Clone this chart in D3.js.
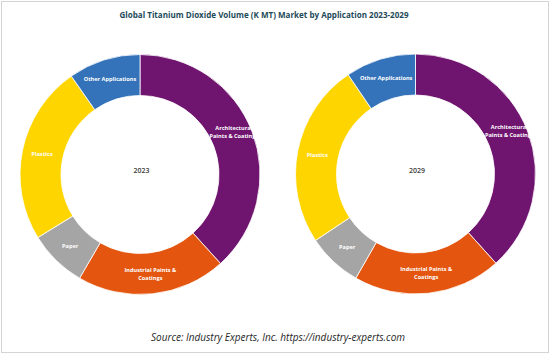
<!DOCTYPE html>
<html><head><meta charset="utf-8">
<script src="https://cdn.jsdelivr.net/npm/d3@7"></script>
<style>html,body{margin:0;padding:0;background:#fff;}svg{display:block;}</style>
</head><body>
<svg id="chart" width="550" height="355"></svg>
<script>
const categories = ["Architectural Paints & Coatings", "Industrial Paints & Coatings", "Paper", "Plastics", "Other Applications"];
const labelLines = [["Architectural", "Paints & Coatings"], ["Industrial Paints &", "Coatings"], ["Paper"], ["Plastics"], ["Other Applications"]];
const years = ["2023", "2029"];
const values2023 = [38.3, 20.1, 7.8, 24.1, 9.7];
const values2029 = [38.4, 20.0, 7.4, 24.9, 9.5];
const colors = ["#70156F", "#E4560F", "#A5A5A5", "#FFD500", "#3473BA"];
const title = "Global Titanium Dioxide Volume (K MT) Market by Application 2023-2029";
const source = "Source: Industry Experts, Inc. https://industry-experts.com";

const svg = d3.select("#chart");
svg.append("rect").attr("x", 1.5).attr("y", 1.5).attr("width", 547).attr("height", 351)
  .attr("fill", "#fff").attr("stroke", "#d4d4d4").attr("stroke-width", 1);

svg.append("text").attr("x", 264).attr("y", 18).attr("text-anchor", "middle")
  .attr("font-family", "Open Sans, sans-serif").attr("font-weight", "bold").attr("font-size", 9)
  .attr("fill", "#1E4B5A").attr("textLength", 289).attr("lengthAdjust", "spacingAndGlyphs").text(title);

svg.append("text").attr("x", 278).attr("y", 341).attr("text-anchor", "middle")
  .attr("font-family", "Open Sans, sans-serif").attr("font-style", "italic").attr("font-size", 10)
  .attr("fill", "#262626").attr("textLength", 254).attr("lengthAdjust", "spacingAndGlyphs").text(source);

const outerR = 120, innerR = 79;
const pie = d3.pie().sort(null).value(d => d);
const arc = d3.arc().innerRadius(innerR).outerRadius(outerR);
const labelArc = d3.arc().innerRadius(100).outerRadius(100);
const color = d3.scaleOrdinal().domain(categories).range(colors);

const charts = [{year: years[0], values: values2023, cx: 140, cy: 174.5},
                {year: years[1], values: values2029, cx: 415.5, cy: 174}];

charts.forEach(c => {
  const g = svg.append("g").attr("transform", `translate(${c.cx},${c.cy})`);
  const arcs = pie(c.values);
  g.selectAll("path").data(arcs).enter().append("path")
    .attr("d", arc).attr("fill", (d, i) => color(categories[i]))
    .attr("stroke", "#fff").attr("stroke-width", 0.8);
  const lab = g.selectAll("text.lab").data(arcs).enter().append("text").attr("class", "lab")
    .attr("transform", (d, i) => { const p = labelArc.centroid(d); return `translate(${p[0] + (i === 0 ? 0.5 : 0)},${p[1] - (i === 0 ? 7 : 0)})`; })
    .attr("text-anchor", "middle").attr("font-family", "Open Sans, sans-serif")
    .attr("font-weight", "bold").attr("font-size", 5.6).attr("fill", "#fff");
  lab.each(function(d, i) {
    const lines = labelLines[i];
    const t = d3.select(this);
    lines.forEach((ln, k) => {
      t.append("tspan").attr("x", 0)
        .attr("y", (k - (lines.length - 1) / 2) * 8 + 2)
        .text(ln);
    });
  });
  g.append("text").attr("x", 1.5).attr("y", -1.5).attr("text-anchor", "middle")
    .attr("font-family", "Open Sans, sans-serif").attr("font-weight", "600").attr("font-size", 7)
    .attr("fill", "#404040").text(c.year);
});
</script>
</body></html>
